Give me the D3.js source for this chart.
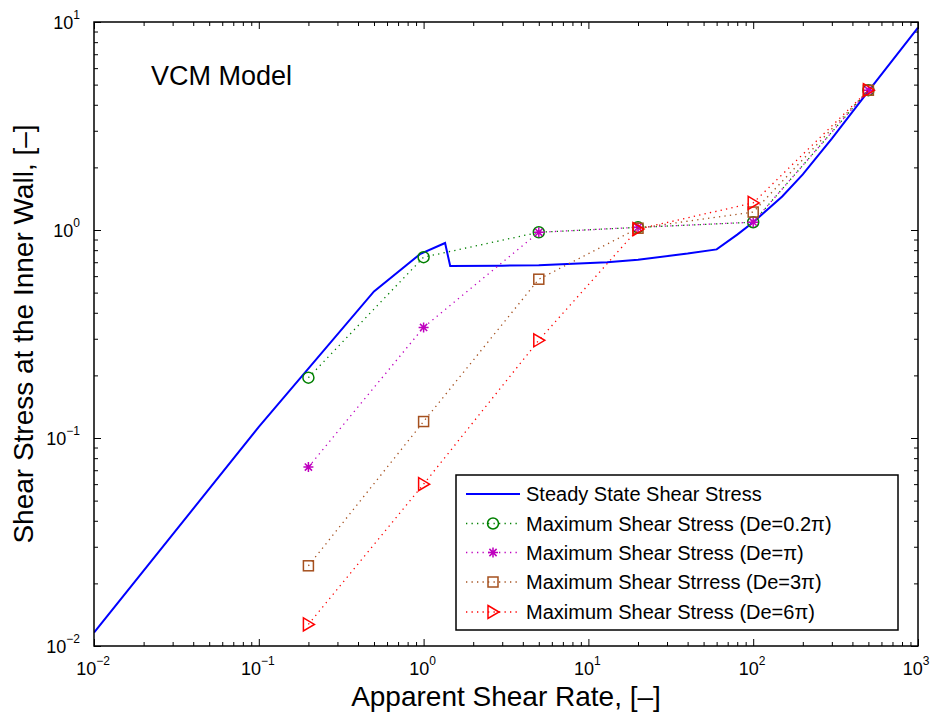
<!DOCTYPE html>
<html lang="en">
<head>
<meta charset="utf-8">
<title>VCM Model</title>
<style>
  body { margin: 0; background: #fff; }
  svg text { font-family: "Liberation Sans", Arial, Helvetica, sans-serif; fill: #000; }
</style>
</head>
<body>
<svg id="chart" width="930" height="715"></svg>
<script src="https://d3js.org/d3.v7.min.js"></script>
<script>
// steady state curve
const steadyX = [0.01, 0.1, 0.5, 0.95, 1.35, 1.45, 3, 5, 13, 20, 40, 60, 80, 100, 150, 200, 300, 500, 1000];
const steadyY = [0.0116, 0.113, 0.507, 0.765, 0.866, 0.671, 0.674, 0.677, 0.70, 0.72, 0.77, 0.807, 0.95, 1.09, 1.45, 1.85, 2.75, 4.65, 9.4];

// maximum shear stress points
const rateX = [0.2, 1, 5, 20, 100, 500];
const maxDe02 = [0.195, 0.74, 0.975, 1.03, 1.09, 4.7];
const maxDe1 = [0.0725, 0.34, 0.975, 1.03, 1.09, 4.7];
const maxDe3 = [0.0243, 0.12, 0.58, 1.02, 1.22, 4.7];
const maxDe6 = [0.0127, 0.06, 0.295, 1.01, 1.35, 4.7];

const legendLabels = [
  "Steady State Shear Stress",
  "Maximum Shear Stress (De=0.2\u03c0)",
  "Maximum Shear Stress (De=\u03c0)",
  "Maximum Shear Strress (De=3\u03c0)",
  "Maximum Shear Stress (De=6\u03c0)"
];

const xDomain = [1e-2, 1e3];
const yDomain = [1e-2, 1e1];

const plotLeft = 94, plotRight = 918, plotTop = 22, plotBottom = 646;

const svg = d3.select("#chart");

const x = d3.scaleLog().domain(xDomain).range([plotLeft, plotRight]);
const y = d3.scaleLog().domain(yDomain).range([plotBottom, plotTop]);

const isMajor = d => Math.abs(Math.log10(d) - Math.round(Math.log10(d))) < 1e-9;
const xAll = x.ticks();
const yAll = y.ticks();
const xMajor = xAll.filter(isMajor), xMinor = xAll.filter(d => !isMajor(d));
const yMajor = yAll.filter(isMajor), yMinor = yAll.filter(d => !isMajor(d));

// ticks (inward, all four sides)
function tickGroup(axisFn, scale, values, size, transform) {
  const g = svg.append("g")
    .attr("transform", transform)
    .call(axisFn(scale).tickValues(values).tickSize(size).tickFormat(""));
  g.select(".domain").remove();
  g.selectAll(".tick line").attr("stroke", "#000").attr("stroke-width", 1);
}
tickGroup(d3.axisBottom, x, xMinor, -4, `translate(0,${plotBottom})`);
tickGroup(d3.axisBottom, x, xMajor, -7, `translate(0,${plotBottom})`);
tickGroup(d3.axisTop, x, xMinor, -4, `translate(0,${plotTop})`);
tickGroup(d3.axisTop, x, xMajor, -7, `translate(0,${plotTop})`);
tickGroup(d3.axisLeft, y, yMinor, -4, `translate(${plotLeft},0)`);
tickGroup(d3.axisLeft, y, yMajor, -7, `translate(${plotLeft},0)`);
tickGroup(d3.axisRight, y, yMinor, -4, `translate(${plotRight},0)`);
tickGroup(d3.axisRight, y, yMajor, -7, `translate(${plotRight},0)`);

// tick labels 10^n
function expText(d) {
  const e = Math.round(Math.log10(d));
  return e < 0 ? "\u2212" + Math.abs(e) : String(e);
}
xMajor.forEach(d => {
  const t = svg.append("text")
    .attr("x", Math.min(x(d) - 1, 916)).attr("y", 675)
    .attr("text-anchor", "middle")
    .attr("font-size", 18);
  t.append("tspan").text("10");
  t.append("tspan").attr("dy", -10).attr("font-size", 12).text(expText(d));
});
yMajor.forEach(d => {
  const t = svg.append("text")
    .attr("x", 80).attr("y", y(d) + 7)
    .attr("text-anchor", "end")
    .attr("font-size", 18);
  t.append("tspan").text("10");
  t.append("tspan").attr("dy", -10).attr("font-size", 12).text(expText(d));
});

// clip
svg.append("clipPath").attr("id", "plotClip")
  .append("rect").attr("x", plotLeft).attr("y", plotTop)
  .attr("width", plotRight - plotLeft).attr("height", plotBottom - plotTop);

const plot = svg.append("g").attr("clip-path", "url(#plotClip)");

const line = d3.line().x(d => x(d[0])).y(d => y(d[1]));

// steady state
plot.append("path")
  .datum(steadyX.map((v, i) => [v, steadyY[i]]))
  .attr("d", line)
  .attr("fill", "none")
  .attr("stroke", "#0000ff")
  .attr("stroke-width", 2);

const series = [
  { values: maxDe02, color: "#008000", marker: "circle" },
  { values: maxDe1, color: "#bf00bf", marker: "star" },
  { values: maxDe3, color: "#a5501e", marker: "square" },
  { values: maxDe6, color: "#ff0000", marker: "triangle" }
];

function drawMarker(g, type, cx, cy, color) {
  if (type === "circle") {
    g.append("circle").attr("cx", cx).attr("cy", cy).attr("r", 5.5)
      .attr("fill", "none").attr("stroke", color).attr("stroke-width", 1.5);
  } else if (type === "square") {
    g.append("rect").attr("x", cx - 5).attr("y", cy - 5).attr("width", 10).attr("height", 10)
      .attr("fill", "none").attr("stroke", color).attr("stroke-width", 1.5);
  } else if (type === "triangle") {
    g.append("path")
      .attr("d", `M${cx - 5},${cy - 6.5}L${cx + 6},${cy}L${cx - 5},${cy + 6.5}Z`)
      .attr("fill", "none").attr("stroke", color).attr("stroke-width", 1.5);
  } else if (type === "star") {
    const r = 5, q = 3.6;
    g.append("path")
      .attr("d", `M${cx - r},${cy}L${cx + r},${cy}M${cx},${cy - r}L${cx},${cy + r}` +
        `M${cx - q},${cy - q}L${cx + q},${cy + q}M${cx - q},${cy + q}L${cx + q},${cy - q}`)
      .attr("fill", "none").attr("stroke", color).attr("stroke-width", 1.5);
  }
}

series.forEach(s => {
  const pts = rateX.map((v, i) => [v, s.values[i]]);
  plot.append("path")
    .datum(pts)
    .attr("d", line)
    .attr("fill", "none")
    .attr("stroke", s.color)
    .attr("stroke-width", 1.3)
    .attr("stroke-dasharray", "1.3,4.2");
  const mg = plot.append("g");
  pts.forEach(p => drawMarker(mg, s.marker, x(p[0]), y(p[1]), s.color));
});

// box
svg.append("rect")
  .attr("x", plotLeft).attr("y", plotTop)
  .attr("width", plotRight - plotLeft).attr("height", plotBottom - plotTop)
  .attr("fill", "none").attr("stroke", "#000").attr("stroke-width", 1.5);

// annotation
svg.append("text").attr("x", 151).attr("y", 85).attr("font-size", 27).text("VCM Model");

// axis labels
svg.append("text")
  .attr("x", (plotLeft + plotRight) / 2).attr("y", 706)
  .attr("text-anchor", "middle").attr("font-size", 28)
  .text("Apparent Shear Rate, [\u2013]");
svg.append("text")
  .attr("transform", `translate(33,${(plotTop + plotBottom) / 2}) rotate(-90)`)
  .attr("text-anchor", "middle").attr("font-size", 28)
  .text("Shear Stress at the Inner Wall, [\u2013]");

// legend
const lg = svg.append("g");
lg.append("rect").attr("x", 456).attr("y", 475).attr("width", 442).attr("height", 155)
  .attr("fill", "#fff").attr("stroke", "#000").attr("stroke-width", 1.5);
const rowY = [494, 523.5, 552.5, 582, 612];
const legendItems = [{ color: "#0000ff", marker: null }].concat(series);
legendItems.forEach((s, i) => {
  const ly = rowY[i];
  const l = lg.append("line").attr("x1", 466).attr("x2", 520).attr("y1", ly).attr("y2", ly)
    .attr("stroke", s.color);
  if (s.marker) {
    l.attr("stroke-width", 1.3).attr("stroke-dasharray", "1.3,4.2");
    drawMarker(lg, s.marker, 493, ly, s.color);
  } else {
    l.attr("stroke-width", 2);
  }
  lg.append("text").attr("x", 526).attr("y", ly + 7).attr("font-size", 20).text(legendLabels[i]);
});
</script>
</body>
</html>
